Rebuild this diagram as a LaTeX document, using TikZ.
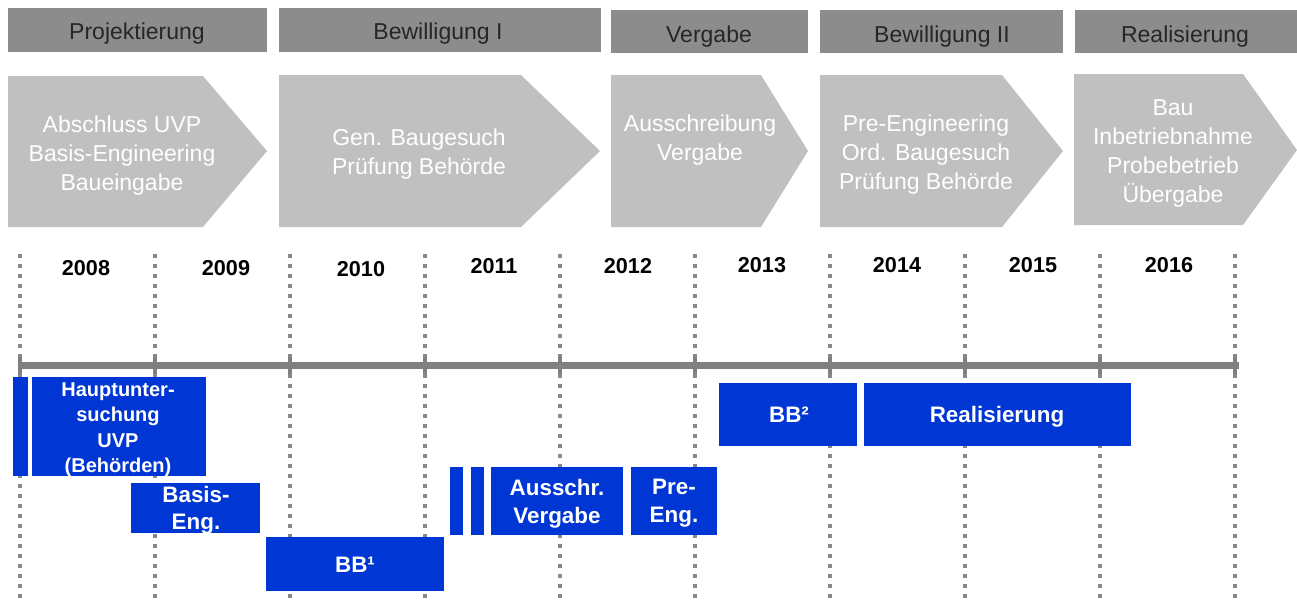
\documentclass[tikz,border=0pt]{standalone}
\usepackage{fontspec}
\setmainfont{Liberation Sans}
\definecolor{headgray}{RGB}{140,140,140}
\definecolor{phasegray}{RGB}{192,192,192}
\definecolor{gridgray}{RGB}{136,136,136}
\definecolor{axisgray}{RGB}{128,128,128}
\definecolor{taskblue}{RGB}{0,54,212}

\begin{document}
\begin{tikzpicture}[x=0.5pt,y=-0.5pt,line cap=butt,
head/.style={text=black!85,inner sep=0pt,yshift=-1.5pt,font=\fontsize{11.5}{14}\selectfont},
phase/.style={text=white,align=center,inner sep=0pt,yshift=-1.4pt,font=\fontsize{11.5}{14.5}\selectfont},
year/.style={inner sep=0pt,font=\fontsize{10.8}{13}\selectfont\bfseries},
task/.style={text=white,align=center,inner sep=0pt,yshift=-1.3pt,font=\fontsize{11.2}{14}\selectfont\bfseries},
grid/.style={gridgray,line width=2pt,dash pattern=on 2pt off 3pt}]
\useasboundingbox (0,0) rectangle (1297,601);
\foreach \a/\b/\c/\d in {8/8/267/52,279/8/601/52,611/10/808/53,820/10/1063/53,1075/10/1297/53}{\fill[headgray] (\a,\b) rectangle (\c,\d);}
\node[head] (hProj) at (137,31) {Projektierung};
\node[head] (hBew) at (438,31) {Bewilligung I};
\node[head] (hVer) at (709,34) {Vergabe};
\node[head] (hBewII) at (942,34) {Bewilligung II};
\node[head] (hReal) at (1185,34) {Realisierung};
\foreach \a/\b/\c/\t/\u/\m in {8/203/267/76/227/151,279/521/600/75/227/151,611/761/808/75/227/151,820/1002/1063/75/227/151,1074/1243/1297/74/225/150}{\fill[phasegray] (\a,\t)--(\b,\t)--(\c,\m)--(\b,\u)--(\a,\u)--cycle;}
\node[phase] (pProj) at (122,153) {Abschluss UVP\\Basis-Engineering\\Baueingabe};
\node[phase] (pBew) at (419,151.5) {Gen. Baugesuch\\Prüfung Behörde};
\node[phase] (pVer) at (700,137) {Ausschreibung\\Vergabe};
\node[phase] (pBewII) at (926,152) {Pre-Engineering\\Ord. Baugesuch\\Prüfung Behörde};
\node[phase] (pReal) at (1173,151) {Bau\\Inbetriebnahme\\Probebetrieb\\Übergabe};
\foreach \x in {20,155,...,1235}{\draw[grid] (\x,254)--(\x,601);}
\draw[axisgray,line width=3.5pt] (20,365.5)--(1239,365.5);
\foreach \x in {20,155,...,1235}{\draw[axisgray,line width=2pt] (\x,357)--(\x,374);}
\foreach \yr/\x/\y in {2008/86/268.5,2009/226/268.5,2010/361/269.5,2011/494/266.5,2012/628/266.5,2013/762/265.5,2014/897/265.5,2015/1033/265.5,2016/1169/265.5}{\node[year] (y\yr) at (\x,\y) {\yr};}
\foreach \a/\b/\c/\d in {13/377/28/476,32/377/206/476,131/483/260/533,266/537/444/591,450/467/463/535,471/467/484/535,491/467/623/535,631/467/717/535,719/383/857/446,864/383/1131/446}{\fill[taskblue] (\a,\b) rectangle (\c,\d);}
\node[task,font=\fontsize{10}{12.6}\selectfont\bfseries] (tUVP) at (118,427) {Hauptunter-\\suchung\\UVP\\(Behörden)};
\node[task,font=\fontsize{11.2}{13.5}\selectfont\bfseries] (tBasis) at (196,508) {Basis-\\Eng.};
\node[task] (tBBa) at (355,562) {BB¹};
\node[task] (tAus) at (557,501) {Ausschr.\\Vergabe};
\node[task] (tPre) at (674,501) {Pre-\\Eng.};
\node[task] (tBBb) at (789,412) {BB²};
\node[task] (tReal) at (997,414) {Realisierung};
\end{tikzpicture}
\end{document}
